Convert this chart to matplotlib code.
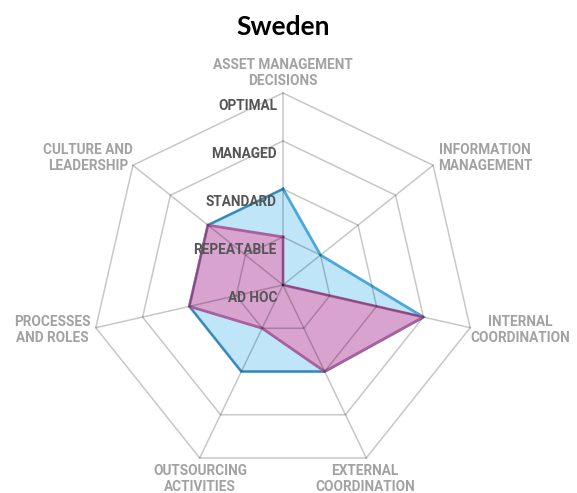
import numpy as np
import matplotlib
matplotlib.use("Agg")
import matplotlib.pyplot as plt

axes_labels = ["ASSET MANAGEMENT\nDECISIONS", "INFORMATION\nMANAGEMENT",
               "INTERNAL\nCOORDINATION", "EXTERNAL\nCOORDINATION",
               "OUTSOURCING\nACTIVITIES", "PROCESSES\nAND ROLES",
               "CULTURE AND\nLEADERSHIP"]
levels = ["AD HOC", "REPEATABLE", "STANDARD", "MANAGED", "OPTIMAL"]
blue_vals = [2, 1, 3, 2, 2, 2, 2]
pink_vals = [1, 0, 3, 2, 1, 2, 2]

W, H = 577, 493
cx, cy, unit = 283, 285, 48.0   # pixel centre and pixels per level

fig = plt.figure(figsize=(W / 100, H / 100), dpi=100)
ax = fig.add_axes([0, 0, 1, 1])
ax.set_xlim(-cx / unit, (W - cx) / unit)
ax.set_ylim(-(H - cy) / unit, cy / unit)
ax.axis("off")

n = len(axes_labels)
th = 2 * np.pi * np.arange(n) / n
sx, sy = np.sin(th), np.cos(th)

def poly(vals):
    v = np.asarray(vals, float)
    return np.append(v * sx, v[0] * sx[0]), np.append(v * sy, v[0] * sy[0])

# filled series
bx, by = poly(blue_vals)
ax.fill(bx, by, color="#bfe6f8", zorder=1)
ax.plot(bx, by, color="#4ba7d9", lw=2.0, zorder=2, solid_joinstyle="miter")
px, py = poly(pink_vals)
ax.fill(px, py, color="#d9a3cf", zorder=3)
ax.plot(px, py, color="#a8609f", lw=2.0, zorder=4, solid_joinstyle="miter")

# grid on top, semi transparent
top = len(levels) - 1
for r in range(1, top + 1):
    gx, gy = poly([r] * n)
    ax.plot(gx, gy, color="black", alpha=0.22, lw=1.1, zorder=5)
for k in range(n):
    ax.plot([0, top * sx[k]], [0, top * sy[k]], color="black", alpha=0.22, lw=1.1, zorder=5)

narrow = ["Roboto", "DejaVu Sans"]

# level labels
for r, name in enumerate(levels):
    ax.text(-6 / unit, r - 13 / unit, name, ha="right", va="center",
            fontsize=9.8, fontweight="bold", color="#555555", family=narrow, zorder=6)

# axis labels (pixel centres)
lab_pos = [(283, 73), (485, 158), (520, 330), (365, 479),
           (200, 479), (52, 330), (88, 158)]
for (lx, ly), name in zip(lab_pos, axes_labels):
    ax.text((lx - cx) / unit, (cy - ly) / unit, name, ha="center", va="center",
            multialignment="center", linespacing=1.1, fontsize=9.8,
            fontweight="bold", color="#a2a2a2", family=narrow)

ax.text(0, (cy - 27) / unit, "Sweden", ha="center", va="center",
        fontsize=19, fontweight="bold", color="black", family=["Lato", "DejaVu Sans"])

fig.savefig("out.png", dpi=100)
